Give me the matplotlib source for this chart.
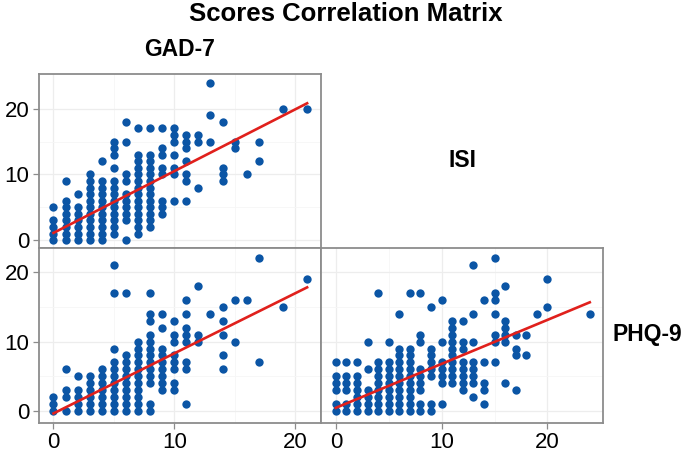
import matplotlib
matplotlib.use("Agg")
import matplotlib.pyplot as plt
import numpy as np

plt.rcParams['font.family'] = ['Liberation Sans', 'DejaVu Sans']

# scores: x score -> list of y scores
isi_vs_gad = {0: [0, 1, 2, 3, 5], 1: [0, 1, 2, 3, 4, 5, 6, 9], 2: [0, 1, 2, 3, 4, 5, 7],
              3: list(range(0, 11)), 4: list(range(0, 10)) + [12],
              5: list(range(1, 10)) + [11, 13, 14, 15], 6: [0, 3, 4, 5, 6, 7, 9, 10, 15, 18],
              7: list(range(1, 14)) + [17], 8: list(range(2, 14)) + [17],
              9: [4, 5, 6, 10, 11, 13, 14, 17], 10: [6, 10, 11, 13, 15, 16, 17],
              11: [6, 9, 10, 12, 14, 15, 16], 12: [8, 15, 16], 13: [15, 19, 24],
              14: [9, 10, 11, 18], 15: [14, 15], 16: [10], 17: [12, 15], 19: [20], 21: [20]}

phq_vs_gad = {0: [0, 1, 2], 1: [0, 2, 3, 6], 2: [0, 1, 2, 3, 5], 3: list(range(0, 6)),
              4: list(range(0, 7)), 5: list(range(0, 8)) + [9, 17, 21], 6: list(range(0, 9)) + [17],
              7: list(range(0, 11)), 8: [0, 1] + list(range(4, 12)) + [13, 14, 17],
              9: list(range(3, 10)) + [12, 14], 10: [3, 4, 6, 7, 8, 10, 11, 13],
              11: [1, 6, 7, 10, 11, 12, 14, 16], 12: [10, 11, 18], 13: [14],
              14: [6, 8, 11, 13, 15], 15: [10, 16], 16: [16], 17: [7, 22], 19: [15], 21: [19]}

phq_vs_isi = {0: [0, 1, 3, 4, 5, 7], 1: [0, 1, 3, 4, 5, 7], 2: [0, 1, 2, 3, 4, 5, 7],
              3: [0, 1, 2, 3, 6, 10], 4: list(range(0, 8)) + [17], 5: list(range(0, 8)) + [10],
              6: list(range(0, 10)) + [14], 7: list(range(0, 10)) + [17],
              8: [0, 1, 3, 4, 5, 6, 10, 11, 17], 9: [0, 1, 5, 6, 7, 8, 9, 15],
              10: [1, 4, 5, 6, 7, 10, 16], 11: list(range(4, 14)),
              12: [3, 4, 5, 6, 7, 9, 10, 13], 13: [2, 4, 5, 6, 7, 10, 14, 21],
              14: [1, 3, 4, 7, 16], 15: [7, 10, 11, 14, 16, 17, 22],
              16: [4, 10, 11, 12, 13, 18], 17: [3, 8, 9, 11], 18: [8, 11], 19: [14],
              20: [15, 19], 24: [14]}

# linear fits (intercept, slope)
fit_isi_gad = (1.1, 0.94)
fit_phq_gad = (-0.3, 0.86)
fit_phq_isi = (0.5, 0.63)

ticks = [0, 10, 20]
point_col = '#0b55a5'
line_col = '#e0201c'
frame_col = '#8c8c8c'


def expand(d):
    xs, ys = [], []
    for k, v in d.items():
        xs += [k] * len(v)
        ys += v
    return np.array(xs), np.array(ys)


def panel(ax, d, fit, xlim, ylim, show_x, show_y):
    x, y = expand(d)
    ax.scatter(x, y, s=36, color=point_col, linewidths=0, zorder=3)
    xx = np.array([x.min(), x.max()])
    ax.plot(xx, fit[0] + fit[1] * xx, color=line_col, lw=1.9, zorder=4)
    ax.set_xlim(*xlim)
    ax.set_ylim(*ylim)
    ax.set_xticks(ticks)
    ax.set_yticks(ticks)
    ax.set_xticks([5, 15], minor=True)
    ax.set_yticks([5, 15], minor=True)
    ax.grid(True, which='major', color='#ededed', lw=0.9, zorder=0)
    ax.grid(True, which='minor', color='#f6f6f6', lw=0.6, zorder=0)
    ax.tick_params(which='minor', length=0)
    ax.tick_params(which='major', length=4, width=0.9, color=frame_col, labelsize=16, pad=3)
    if not show_x:
        ax.tick_params(axis='x', length=0, labelbottom=False)
    if not show_y:
        ax.tick_params(axis='y', length=0, labelleft=False)
    for s in ax.spines.values():
        s.set_color(frame_col)
        s.set_linewidth(1.3)
    ax.set_axisbelow(True)


W, H = 685, 455
fig = plt.figure(figsize=(W / 100, H / 100), dpi=100)


def box(l, t, r, b):
    return [l / W, 1 - b / H, (r - l) / W, (b - t) / H]


ax1 = fig.add_axes(box(39, 74, 321, 248))
ax2 = fig.add_axes(box(39, 248, 321, 422.5))
ax3 = fig.add_axes(box(321, 248, 603, 422.5))

panel(ax1, isi_vs_gad, fit_isi_gad, (-1.2, 22.15), (-1.2, 25.3), False, True)
panel(ax2, phq_vs_gad, fit_phq_gad, (-1.2, 22.15), (-1.6, 23.4), True, True)
panel(ax3, phq_vs_isi, fit_phq_isi, (-1.4, 25.25), (-1.6, 23.4), True, False)

fig.text(346 / W, 1 - 14 / H, 'Scores Correlation Matrix', ha='center', va='center',
         fontsize=18.5, fontweight='bold')
fig.text(180 / W, 1 - 50 / H, 'GAD-7', ha='center', va='center', fontsize=16.5, fontweight='bold')
fig.text(462 / W, 1 - 160 / H, 'ISI', ha='center', va='center', fontsize=16.5, fontweight='bold')
fig.text(647 / W, 1 - 334 / H, 'PHQ-9', ha='center', va='center', fontsize=16.5, fontweight='bold')

fig.savefig('out.png', dpi=100)
